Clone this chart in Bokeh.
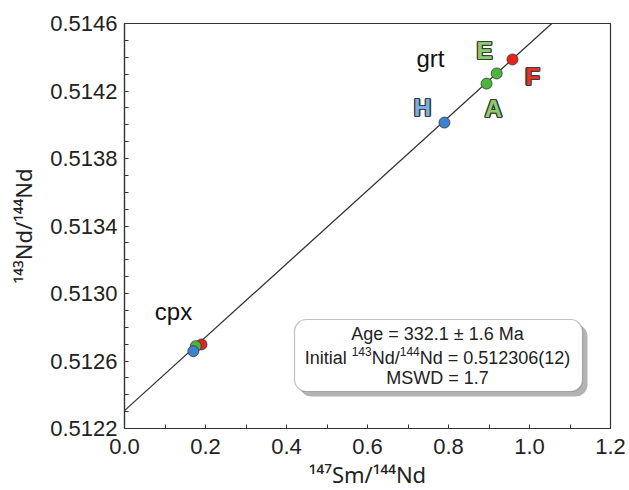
from math import pi
from bokeh.plotting import figure
from bokeh.models import FixedTicker, PrintfTickFormatter, Label, BoxAnnotation
from bokeh.embed import file_html
from bokeh.resources import INLINE

# ---------------- data ----------------
x_major_ticks = [0.0, 0.2, 0.4, 0.6, 0.8, 1.0, 1.2]
x_minor_ticks = [0.1, 0.3, 0.5, 0.7, 0.9, 1.1]
y_major_ticks = [0.5122, 0.5126, 0.5130, 0.5134, 0.5138, 0.5142, 0.5146]
y_minor_ticks = [0.5123, 0.5124, 0.5125, 0.5127, 0.5128, 0.5129, 0.5131, 0.5132,
                 0.5133, 0.5135, 0.5136, 0.5137, 0.5139, 0.5140, 0.5141, 0.5143,
                 0.5144, 0.5145]

grt_x = [0.790, 0.894, 0.919, 0.958]
grt_y = [0.514013, 0.514244, 0.514304, 0.514387]
grt_colors = ["#3f80cf", "#4cb63c", "#4cb63c", "#e5241f"]

cpx_x = [0.190, 0.176, 0.170]
cpx_y = [0.512698, 0.512688, 0.512658]
cpx_colors = ["#e5241f", "#4cb63c", "#3f80cf"]

iso_intercept = 0.512306
iso_slope = 0.0021743

box_lines = ["Age = 332.1 \u00b1 1.6 Ma", "MSWD = 1.7"]
init_parts = [("Initial ", False), ("143", True), ("Nd/", False), ("144", True),
              ("Nd = 0.512306(12)", False)]
x_label = "\u00b9\u2074\u2077Sm/\u00b9\u2074\u2074Nd"
y_label = "\u00b9\u2074\u00b3Nd/\u00b9\u2074\u2074Nd"

letters = [("E", "#8acb6e", 484, 50), ("F", "#e5352a", 532, 76),
           ("H", "#78b0e0", 422, 107), ("A", "#8acb6e", 493, 108)]

# ---------------- geometry ----------------
FONT = "Liberation Sans"
LABEL_FONT = "Noto Sans"
X0, X1 = 0.0, 1.2
Y0, Y1 = 0.5122, 0.5146
FL, FT, FW, FH = 124, 23, 486, 405


def px2x(px):
    return X0 + (px - FL) / FW * (X1 - X0)


def py2y(py):
    return Y1 - (py - FT) / FH * (Y1 - Y0)


ADV = {"0": .556, "1": .556, "2": .556, "3": .556, "4": .556, "5": .556, "6": .556,
       "7": .556, "8": .556, "9": .556, "N": .722, "d": .556, "/": .278, "S": .667,
       "m": .833, " ": .278, "I": .278, "n": .556, "i": .222, "t": .278, "a": .556,
       "l": .222, "=": .584, ".": .278, "(": .333, ")": .333}


def tw(s, size):
    return sum(ADV.get(c, .556) for c in s) * size


p = figure(frame_width=FW, frame_height=FH, min_border_left=FL, min_border_right=17,
           min_border_top=FT, min_border_bottom=60, x_range=(X0, X1), y_range=(Y0, Y1),
           output_backend="svg", toolbar_location=None)
p.background_fill_color = "white"
p.border_fill_color = "white"
p.grid.visible = False
p.outline_line_color = "#333333"
p.outline_line_width = 1.2

p.xaxis.ticker = FixedTicker(ticks=x_major_ticks, minor_ticks=x_minor_ticks)
p.yaxis.ticker = FixedTicker(ticks=y_major_ticks, minor_ticks=y_minor_ticks)
p.xaxis.formatter = PrintfTickFormatter(format="%.1f")
p.yaxis.formatter = PrintfTickFormatter(format="%.4f")
for ax in (p.xaxis, p.yaxis):
    ax.axis_line_color = "#333333"
    ax.axis_line_width = 1.2
    ax.major_tick_in = 4
    ax.major_tick_out = 0
    ax.minor_tick_in = 4
    ax.minor_tick_out = 0
    ax.major_tick_line_color = "#333333"
    ax.minor_tick_line_color = "#333333"
    ax.major_label_text_font = FONT
    ax.major_label_text_font_size = "22px"
    ax.major_label_text_color = "#222222"
    ax.axis_label_text_font = LABEL_FONT
    ax.axis_label_text_font_size = "22px"
    ax.axis_label_text_font_style = "normal"
    ax.axis_label_text_color = "#222222"
p.xaxis.major_label_standoff = 10
p.yaxis.major_label_standoff = 7
p.xaxis.axis_label = x_label
p.yaxis.axis_label = y_label
p.xaxis.axis_label_standoff = 2
p.yaxis.axis_label_standoff = 9

# isochron line
p.line([X0, X1], [iso_intercept + iso_slope * X0, iso_intercept + iso_slope * X1],
       line_color="#333333", line_width=1.3)

# points
p.scatter(cpx_x, cpx_y, size=11, fill_color=cpx_colors, line_color="#333333", line_width=0.8)
p.scatter(grt_x, grt_y, size=11, fill_color=grt_colors, line_color="#333333", line_width=0.8)

# text box with shadow
bl, br, bt, bb = 294, 582, 319, 391
dxs = 5
p.add_layout(BoxAnnotation(left=px2x(bl + dxs), right=px2x(br + dxs), top=py2y(bt + dxs),
                           bottom=py2y(bb + dxs), fill_color="#9a9a9a", fill_alpha=0.75,
                           line_color=None, border_radius=12))
p.add_layout(BoxAnnotation(left=px2x(bl), right=px2x(br), top=py2y(bt), bottom=py2y(bb),
                           fill_color="white", fill_alpha=1.0, line_color="#333333",
                           line_width=1.2, border_radius=12))

BOX_CX = 437
p.add_layout(Label(x=px2x(BOX_CX), y=py2y(333), text=box_lines[0], text_font=FONT,
                   text_font_size="18px", text_color="#222222", text_align="center",
                   text_baseline="middle"))
p.add_layout(Label(x=px2x(BOX_CX), y=py2y(377), text=box_lines[1], text_font=FONT,
                   text_font_size="18px", text_color="#222222", text_align="center",
                   text_baseline="middle"))

# composite superscript line
MS, SS = 18, 12
total = sum(tw(s, SS if sup else MS) for s, sup in init_parts)
cur = BOX_CX - total / 2
base = 357.5
for s, sup in init_parts:
    size = SS if sup else MS
    yy = base - 7 if sup else base
    p.add_layout(Label(x=px2x(cur), y=py2y(yy), text=s, text_font=FONT,
                       text_font_size=f"{size}px", text_color="#222222",
                       text_align="left", text_baseline="alphabetic"))
    cur += tw(s, size)

# mineral labels
p.add_layout(Label(x=px2x(430), y=py2y(58), text="grt", text_font=FONT,
                   text_font_size="24px", text_color="#111111", text_align="center",
                   text_baseline="middle"))
p.add_layout(Label(x=px2x(173), y=py2y(311), text="cpx", text_font=FONT,
                   text_font_size="24px", text_color="#111111", text_align="center",
                   text_baseline="middle"))

# outlined sample letters
offs = [(-1.3, 0), (1.3, 0), (0, -1.3), (0, 1.3), (-1, -1), (1, 1), (-1, 1), (1, -1)]
for t, col, lx, ly in letters:
    for ox, oy in offs:
        p.add_layout(Label(x=px2x(lx), y=py2y(ly), x_offset=ox, y_offset=oy, text=t,
                           text_font=FONT, text_font_size="24px", text_font_style="bold",
                           text_color="#3a3a3a", text_align="center", text_baseline="middle"))
    p.add_layout(Label(x=px2x(lx), y=py2y(ly), text=t, text_font=FONT,
                       text_font_size="24px", text_font_style="bold", text_color=col,
                       text_align="center", text_baseline="middle"))

open("out.html", "w").write(file_html(p, INLINE))
